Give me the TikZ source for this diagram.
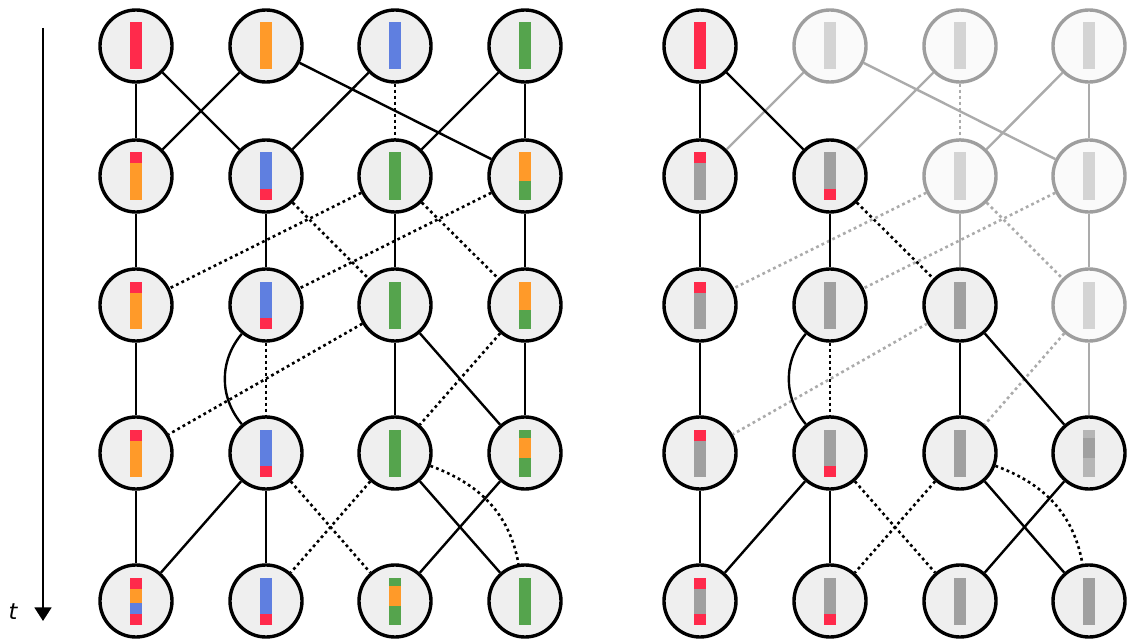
\documentclass[tikz,border=0pt]{standalone}
\usepackage{fontspec}
\setmainfont{DejaVu Sans}
\usetikzlibrary{calc,arrows.meta}

\definecolor{tokred}{HTML}{FF2A4B}
\definecolor{tokorange}{HTML}{FF9A29}
\definecolor{tokblue}{HTML}{5F7FE0}
\definecolor{tokgreen}{HTML}{55A44D}
\definecolor{tokgray}{HTML}{A0A0A0}
\definecolor{toklight}{HTML}{B6B6B6}
\definecolor{tokfaint}{HTML}{D4D4D4}
\definecolor{unitfill}{HTML}{EFEFEF}
\definecolor{fadefill}{HTML}{FAFAFA}
\definecolor{fadeline}{HTML}{9E9E9E}
\definecolor{fadeedge}{HTML}{ABABAB}

\tikzset{
  unit/.style={circle, draw=black, fill=unitfill, line width=0.085cm,
    minimum size=1.8cm, inner sep=0pt},
  fadedunit/.style={unit, draw=fadeline, fill=fadefill},
  link/.style={line width=0.06cm},
  dotlink/.style={link, line width=0.065cm, dash pattern=on 0.07cm off 0.08cm},
}

% bar inside a unit: list of colour/from/to (px from the top of the bar)
\newcommand{\segbar}[2]{%
  \foreach \col/\a/\b in {#2}
    \fill[\col] ($(#1)+(-6,23.5-\a)$) rectangle ($(#1)+(6,23.5-\b)$);
}

\begin{document}
\begin{tikzpicture}[x=0.025cm, y=0.025cm]

\useasboundingbox (0,0) rectangle (1127,641);

% Time axis
\coordinate (tstart) at (43,613);
\coordinate (tend) at (43,20);
\draw[line width=0.06cm, -{Triangle[width=0.42cm, length=0.34cm]}] (tstart) -- (tend);
\node[font=\fontsize{16}{18}\selectfont\itshape] (tlabel) at (13,29) {t};

% Left grid of units
\foreach \c/\x in {1/136, 2/266, 3/395, 4/525} {
    \foreach \r/\y in {1/595, 2/465, 3/336, 4/188, 5/40} {
        \node[unit] (L\r\c) at (\x,\y) {};
    }
}

% Right grid of units (faded ones are not reached)
\foreach \r/\y/\sa/\sb/\sc/\sd in {
    1/595/unit/fadedunit/fadedunit/fadedunit,
    2/465/unit/unit/fadedunit/fadedunit,
    3/336/unit/unit/unit/fadedunit,
    4/188/unit/unit/unit/unit,
    5/40/unit/unit/unit/unit} {
    \node[\sa] (R\r1) at (700,\y) {};
    \node[\sb] (R\r2) at (830,\y) {};
    \node[\sc] (R\r3) at (960,\y) {};
    \node[\sd] (R\r4) at (1089,\y) {};
}

% Left connections
\foreach \a/\b in {L11/L21, L11/L22, L12/L21, L12/L24, L13/L22, L14/L23, L14/L24,
                   L21/L31, L22/L32, L23/L33, L24/L34,
                   L31/L41, L33/L43, L33/L44, L34/L44,
                   L41/L51, L42/L51, L42/L52, L43/L54, L44/L53} {
    \draw[link] (\a) -- (\b);
}
\foreach \a/\b in {L13/L23, L22/L33, L23/L31, L23/L34, L24/L32,
                   L32/L42, L33/L41, L34/L43, L42/L53, L43/L52} {
    \draw[dotlink] (\a) -- (\b);
}
\draw[link] (L32) to[bend right=40] (L42);
\draw[dotlink] (L43) to[out=-20, in=100] (L54);

% Right connections: faded first
\foreach \a/\b in {R12/R21, R12/R24, R13/R22, R14/R23, R14/R24,
                   R23/R33, R24/R34, R34/R44} {
    \draw[link, fadeedge] (\a) -- (\b);
}
\foreach \a/\b in {R13/R23, R23/R31, R23/R34, R24/R32, R33/R41, R34/R43} {
    \draw[dotlink, fadeedge] (\a) -- (\b);
}
\foreach \a/\b in {R11/R21, R11/R22, R21/R31, R22/R32,
                   R31/R41, R33/R43, R33/R44,
                   R41/R51, R42/R51, R42/R52, R43/R54, R44/R53} {
    \draw[link] (\a) -- (\b);
}
\foreach \a/\b in {R22/R33, R32/R42, R42/R53, R43/R52} {
    \draw[dotlink] (\a) -- (\b);
}
\draw[link] (R32) to[bend right=40] (R42);
\draw[dotlink] (R43) to[out=-20, in=100] (R54);

% Bars, left
\segbar{L11}{tokred/0/47}
\segbar{L12}{tokorange/0/47}
\segbar{L13}{tokblue/0/47}
\segbar{L14}{tokgreen/0/47}
\foreach \r in {2,3,4} {
    \segbar{L\r1}{tokred/0/11, tokorange/11/47}
    \segbar{L\r2}{tokblue/0/36, tokred/36/47}
    \segbar{L\r3}{tokgreen/0/47}
}
\segbar{L24}{tokorange/0/28, tokgreen/28/47}
\segbar{L34}{tokorange/0/28, tokgreen/28/47}
\segbar{L44}{tokgreen/0/8, tokorange/8/28, tokgreen/28/47}
\segbar{L51}{tokred/0/11, tokorange/11/25, tokblue/25/36, tokred/36/47}
\segbar{L52}{tokblue/0/36, tokred/36/47}
\segbar{L53}{tokgreen/0/8, tokorange/8/28, tokgreen/28/47}
\segbar{L54}{tokgreen/0/47}

% Bars, right
\segbar{R11}{tokred/0/47}
\foreach \n in {R12,R13,R14,R23,R24,R34} {
    \segbar{\n}{tokfaint/0/47}
}
\segbar{R21}{tokred/0/11, tokgray/11/47}
\segbar{R22}{tokgray/0/36, tokred/36/47}
\segbar{R31}{tokred/0/11, tokgray/11/47}
\segbar{R32}{tokgray/0/47}
\segbar{R33}{tokgray/0/47}
\segbar{R41}{tokred/0/11, tokgray/11/47}
\segbar{R42}{tokgray/0/36, tokred/36/47}
\segbar{R43}{tokgray/0/47}
\segbar{R44}{toklight/0/8, tokgray/8/28, toklight/28/47}
\segbar{R51}{tokred/0/11, tokgray/11/36, tokred/36/47}
\segbar{R52}{tokgray/0/36, tokred/36/47}
\segbar{R53}{tokgray/0/47}
\segbar{R54}{tokgray/0/47}

\end{tikzpicture}
\end{document}
